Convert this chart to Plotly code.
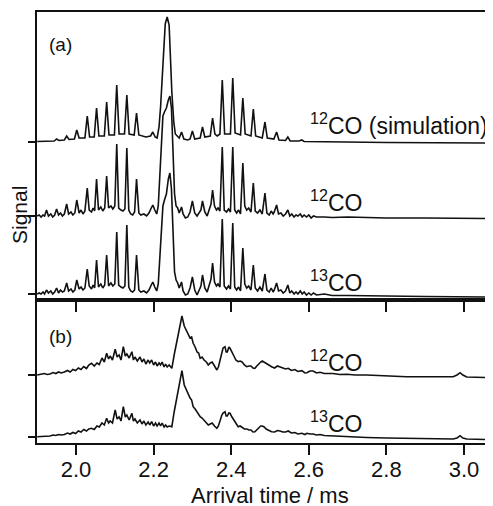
import plotly.graph_objects as go

# ---------------- data ----------------
# Panel (a): signal relative to each trace's own baseline
sim12_t = [1.900, 1.930, 1.944, 1.950, 1.956, 1.970, 1.976, 1.982, 1.996, 2.002, 2.008, 2.023, 2.029, 2.035,
           2.047, 2.053, 2.059, 2.073, 2.079, 2.085, 2.099, 2.105, 2.111, 2.125, 2.131, 2.137, 2.150, 2.156,
           2.162, 2.180, 2.192, 2.198, 2.204, 2.209, 2.214, 2.218, 2.224, 2.230, 2.235, 2.240, 2.247, 2.252,
           2.256, 2.262, 2.266, 2.272, 2.278, 2.288, 2.294, 2.300, 2.306, 2.320, 2.326, 2.332, 2.346, 2.352,
           2.358, 2.364, 2.371, 2.377, 2.383, 2.398, 2.404, 2.410, 2.424, 2.430, 2.436, 2.451, 2.457, 2.463,
           2.480, 2.487, 2.493, 2.510, 2.517, 2.523, 2.540, 2.546, 2.552, 2.575, 2.582, 2.588, 2.650, 2.800,
           3.075]
sim12_s = [0.5, 1, 1, 3, 1.5, 2, 6, 2.5, 3, 12, 4, 4, 26, 5,
           5, 34, 6, 6, 40, 7, 7, 57, 8, 8, 47, 8, 7, 29,
           7, 5, 6, 10, 5, 4, 15, 35, 82, 118, 125, 117, 50, 20,
           8, 6, 4, 10, 3, 2, 3, 11, 3, 4, 15, 5, 6, 24,
           8, 6, 8, 62, 8, 8, 64, 9, 7, 44, 8, 6, 33, 6,
           4, 20, 4, 3, 10, 2, 1.5, 5, 1, 1, 2, 0.5, 0, -0.5,
           -1]

exp12_t = [1.900, 1.905, 1.910, 1.915, 1.919, 1.924, 1.929, 1.935, 1.940, 1.945, 1.950, 1.955, 1.960, 1.965,
           1.970, 1.976, 1.981, 1.987, 1.992, 1.997, 2.002, 2.008, 2.013, 2.018, 2.023, 2.029, 2.034, 2.040,
           2.044, 2.048, 2.053, 2.058, 2.064, 2.069, 2.074, 2.079, 2.084, 2.090, 2.095, 2.100, 2.105, 2.110,
           2.116, 2.121, 2.126, 2.131, 2.136, 2.141, 2.146, 2.151, 2.156, 2.162, 2.167, 2.175, 2.182, 2.188,
           2.194, 2.198, 2.203, 2.208, 2.212, 2.218, 2.224, 2.228, 2.233, 2.238, 2.242, 2.246, 2.250, 2.254,
           2.258, 2.262, 2.266, 2.270, 2.272, 2.276, 2.282, 2.288, 2.294, 2.300, 2.306, 2.312, 2.318, 2.322,
           2.326, 2.332, 2.338, 2.344, 2.348, 2.352, 2.357, 2.362, 2.366, 2.371, 2.377, 2.382, 2.388, 2.393,
           2.398, 2.404, 2.409, 2.414, 2.419, 2.424, 2.430, 2.435, 2.440, 2.445, 2.451, 2.457, 2.462, 2.468,
           2.474, 2.480, 2.487, 2.492, 2.498, 2.503, 2.508, 2.511, 2.517, 2.522, 2.528, 2.534, 2.540, 2.546,
           2.551, 2.556, 2.562, 2.567, 2.572, 2.578, 2.583, 2.588, 2.594, 2.600, 2.606, 2.612, 2.620, 2.640,
           2.660, 2.700, 2.750, 2.800, 2.900, 3.000, 3.075]
exp12_s = [0, 1, -1, 1, 0, 6, 0, 2, -1, 1, 7, 1, 3, 0,
           2, 12, 2, 4, 1, 3, 16, 3, 6, 2, 5, 28, 6, 4,
           8, 5, 37, 6, 9, 5, 8, 40, 8, 10, 7, 10, 72, 8,
           6, 5, 7, 68, 6, 2, 1, 4, 37, 3, 1, 2, 0, 3,
           8, 11, 6, 2, 10, 62, 100, 104, 108, 116, 120, 108, 65, 22,
           10, 8, 3, 7, 9, 2, -2, -1, 4, 15, 3, 0, 3, 6,
           15, 4, 0, 8, 12, 26, 10, 6, 8, 5, 69, 6, 4, 7,
           4, 69, 6, 3, 6, 2, 53, 10, 6, 8, 4, 33, 5, 3,
           6, 2, 23, 3, 1, 5, 2, 4, 11, 2, 3, 0, 2, 6,
           0, 2, -1, 1, 0, 2, -1, 1, -1, 1, -2, 0, -1, -1,
           -1.5, -1, -1.5, -2, -2, -2, -2.5]

exp13_t = exp12_t
exp13_s = [0, 1, 0, 2, 0, 4, 1, 3, 0, 2, 6, 1, 4, 2,
           3, 11, 3, 5, 2, 4, 14, 5, 7, 4, 6, 25, 8, 5,
           9, 6, 34, 7, 10, 6, 9, 39, 8, 11, 8, 10, 62, 9,
           7, 6, 8, 69, 7, 3, 2, 4, 39, 4, 2, 3, 1, 4,
           9, 12, 7, 3, 10, 55, 88, 94, 100, 115, 121, 105, 60, 22,
           14, 11, 6, 10, 12, 3, -1, 0, 6, 17, 4, -1, 4, 8,
           19, 6, 2, 10, 15, 31, 12, 8, 10, 7, 75, 8, 5, 8,
           5, 71, 7, 4, 7, 3, 46, 10, 6, 8, 4, 29, 6, 3,
           7, 3, 20, 4, 2, 6, 2, 4, 11, 3, 4, 1, 3, 9,
           1, 3, 0, 2, 0, 3, 0, 2, -1, 1, -1, 1, -1, 0,
           -1.5, -1.5, -2, -2, -2.5, -2.5, -3]

# Panel (b): broad arrival-time distributions
b12_t = [1.900, 1.910, 1.918, 1.926, 1.933, 1.941, 1.948, 1.955, 1.962, 1.970, 1.978, 1.985, 1.992, 1.999,
         2.006, 2.013, 2.020, 2.027, 2.033, 2.040, 2.047, 2.054, 2.060, 2.067, 2.073, 2.079, 2.084, 2.088,
         2.094, 2.101, 2.106, 2.111, 2.116, 2.122, 2.127, 2.131, 2.137, 2.144, 2.148, 2.152, 2.158, 2.165,
         2.170, 2.175, 2.180, 2.186, 2.190, 2.195, 2.200, 2.205, 2.209, 2.214, 2.218, 2.222, 2.227, 2.231,
         2.235, 2.240, 2.247, 2.253, 2.260, 2.266, 2.273, 2.279, 2.284, 2.289, 2.294, 2.298, 2.302, 2.307,
         2.312, 2.316, 2.320, 2.325, 2.330, 2.336, 2.341, 2.346, 2.351, 2.357, 2.363, 2.367, 2.371, 2.376,
         2.379, 2.384, 2.387, 2.390, 2.394, 2.397, 2.402, 2.407, 2.412, 2.418, 2.423, 2.428, 2.434, 2.440,
         2.446, 2.451, 2.456, 2.461, 2.466, 2.472, 2.476, 2.480, 2.485, 2.490, 2.497, 2.504, 2.512, 2.519,
         2.526, 2.533, 2.540, 2.547, 2.555, 2.564, 2.572, 2.582, 2.590, 2.595, 2.603, 2.611, 2.620, 2.629,
         2.640, 2.662, 2.680, 2.698, 2.720, 2.749, 2.800, 2.852, 2.938, 2.972, 2.982, 2.990, 2.997, 3.007,
         3.075]
b12_s = [0, 0.5, 1.5, 0.5, 1, 2.5, 1.5, 3, 2, 3, 4.5, 3, 5.5, 4.5,
         7, 5.5, 8.5, 6.5, 10, 11.7, 9, 12, 10.5, 17, 13, 21.7, 16, 19,
         15, 25.7, 18, 20, 15, 28.3, 19, 21, 17, 23.3, 15, 18, 14, 18,
         13, 16, 11, 15, 12, 15, 10, 13, 9, 12, 10, 13, 8, 11,
         8, 10, 6.7, 20, 35, 45, 59, 49, 45, 41.7, 37, 38, 31.7, 28,
         23, 22, 16.7, 18, 15, 13, 10, 12, 13, 9, 5, 8, 15, 22,
         27, 28.3, 23, 23, 28, 26.7, 22, 19, 15, 13.3, 14, 13, 10, 8.3,
         9, 9, 7, 6.7, 9, 12, 13, 14, 13, 12, 10, 8.3, 7, 9,
         8, 7.5, 6, 6.7, 4.5, 5.5, 3.5, 4.3, 2, 2.3, 4, 4, 2, 2.7,
         1.5, 1.5, 0.5, 0.7, 0, 0, -1, -1.7, -1.7, -1.7, 0, 2.3, 0, -2,
         -2.7]

b13_t = b12_t
b13_s = [0.3, 0.5, 1, 0.5, 1, 2, 1.5, 2.5, 2, 2.5, 4, 3, 4.5, 3.5,
         6, 5, 7.5, 6, 8, 8.7, 7.5, 11, 10, 14, 12, 18.7, 14, 16,
         14, 27, 18, 20, 16, 30.3, 20, 22, 17, 23.7, 16, 18, 14, 17,
         13, 16, 12, 15, 12, 15.3, 11, 14, 11, 14, 11, 14, 10, 12,
         10, 11, 10.3, 25, 40.3, 52, 66.3, 52, 47, 43.7, 39, 37, 30.3, 28,
         25, 23, 20.3, 19, 17, 14, 12, 13, 14, 11, 8.7, 11, 17, 22,
         24, 25.3, 21, 21, 24, 23.7, 20, 17, 14, 10.3, 11, 10, 8, 8,
         7, 7, 5, 5.3, 7, 10, 11, 11, 10, 8, 7, 5.3, 5, 6.5,
         6, 5, 5, 6, 4, 4.5, 3, 3.7, 2.5, 3.7, 3, 3, 2, 2.5,
         1.5, 1, 0.5, 0.3, 0, -0.5, -1, -1.3, -2, -2, -1, 1.3, -1, -2,
         -2.7]

x_ticks = [2.0, 2.2, 2.4, 2.6, 2.8, 3.0]
x_tick_labels = ["2.0", "2.2", "2.4", "2.6", "2.8", "3.0"]

# ---------------- layout constants ----------------
W, H = 493, 506
PAGE = 8  # default body margin of the html page
# plot area in screen pixels: x 37..493, y 12..443
ML, MT = 37 - PAGE, 12 - PAGE
MR = W - (493 - PAGE)
MB = H - (443 - PAGE)
X_RANGE = [1.8995, 3.0747]
TOP_RANGE = [0, 288]
BOT_RANGE = [0, 143]
SPLIT = 143 / 431.0
OFF_SIM, OFF_12, OFF_13 = 158, 84, 6
OFF_B12, OFF_B13 = 68, 6

FONT = "Liberation Sans, Arial, Helvetica, sans-serif"
INK = "#111111"
LINE = dict(color=INK, width=1.6)

fig = go.Figure()


def add(t, s, off, ax):
    fig.add_trace(go.Scatter(x=t, y=[v + off for v in s], mode="lines", line=LINE,
                             xaxis="x" if ax == 1 else "x2", yaxis="y" if ax == 1 else "y2",
                             showlegend=False, hoverinfo="skip"))


add(sim12_t, sim12_s, OFF_SIM, 2)
add(exp12_t, exp12_s, OFF_12, 2)
add(exp13_t, exp13_s, OFF_13, 2)
add(b12_t, b12_s, OFF_B12, 1)
add(b13_t, b13_s, OFF_B13, 1)

axis_common = dict(range=X_RANGE, showgrid=False, zeroline=False, showline=True, linecolor=INK,
                   linewidth=2, mirror=True, ticks="outside", ticklen=10, tickwidth=1.5,
                   tickcolor=INK, tickvals=x_ticks, automargin=False)
yaxis_common = dict(showgrid=False, zeroline=False, showline=True, linecolor=INK, linewidth=2,
                    mirror=False, ticks="outside", ticklen=7, tickwidth=1.5, tickcolor=INK,
                    showticklabels=False, automargin=False)

fig.update_layout(
    width=W, height=H,
    margin=dict(l=ML, r=MR, t=MT, b=MB, autoexpand=False),
    paper_bgcolor="white", plot_bgcolor="white",
    font=dict(family=FONT, color=INK),
    xaxis=dict(**axis_common, anchor="y", ticktext=x_tick_labels, ticklabelstandoff=-4,
               tickfont=dict(size=22, family=FONT, color=INK)),
    xaxis2=dict(**axis_common, anchor="y2", showticklabels=False, matches="x"),
    yaxis=dict(**yaxis_common, domain=[0, SPLIT], range=BOT_RANGE, tickvals=[OFF_B12, OFF_B13]),
    yaxis2=dict(**yaxis_common, domain=[SPLIT, 1], range=TOP_RANGE,
                tickvals=[OFF_SIM, OFF_12, OFF_13]),
)


def px_to_paper(px, py):
    # px, py are screen pixels of the reference picture
    fx, fy = px - PAGE, py - PAGE
    return (fx - ML) / (W - ML - MR), (H - MB - fy) / (H - MB - MT)


def label(text, px, py, size=23, anchor="left", angle=0):
    x, y = px_to_paper(px, py)
    fig.add_annotation(text=text, x=x, y=y, xref="paper", yref="paper", xanchor=anchor,
                       yanchor="middle", showarrow=False, textangle=angle, borderpad=0,
                       font=dict(size=size, family=FONT, color=INK))


label("<sup>12</sup>CO (simulation)", 309, 124)
label("<sup>12</sup>CO", 309, 201)
label("<sup>13</sup>CO", 309, 281)
label("<sup>12</sup>CO", 309, 361)
label("<sup>13</sup>CO", 309, 422)
label("(a)", 48, 44, 19)
label("(b)", 48, 336, 19)
label("Arrival time / ms", 270, 495, 22, anchor="center")
label("Signal", 20, 215, 21, anchor="center", angle=-90)

fig.write_html("out.html")
